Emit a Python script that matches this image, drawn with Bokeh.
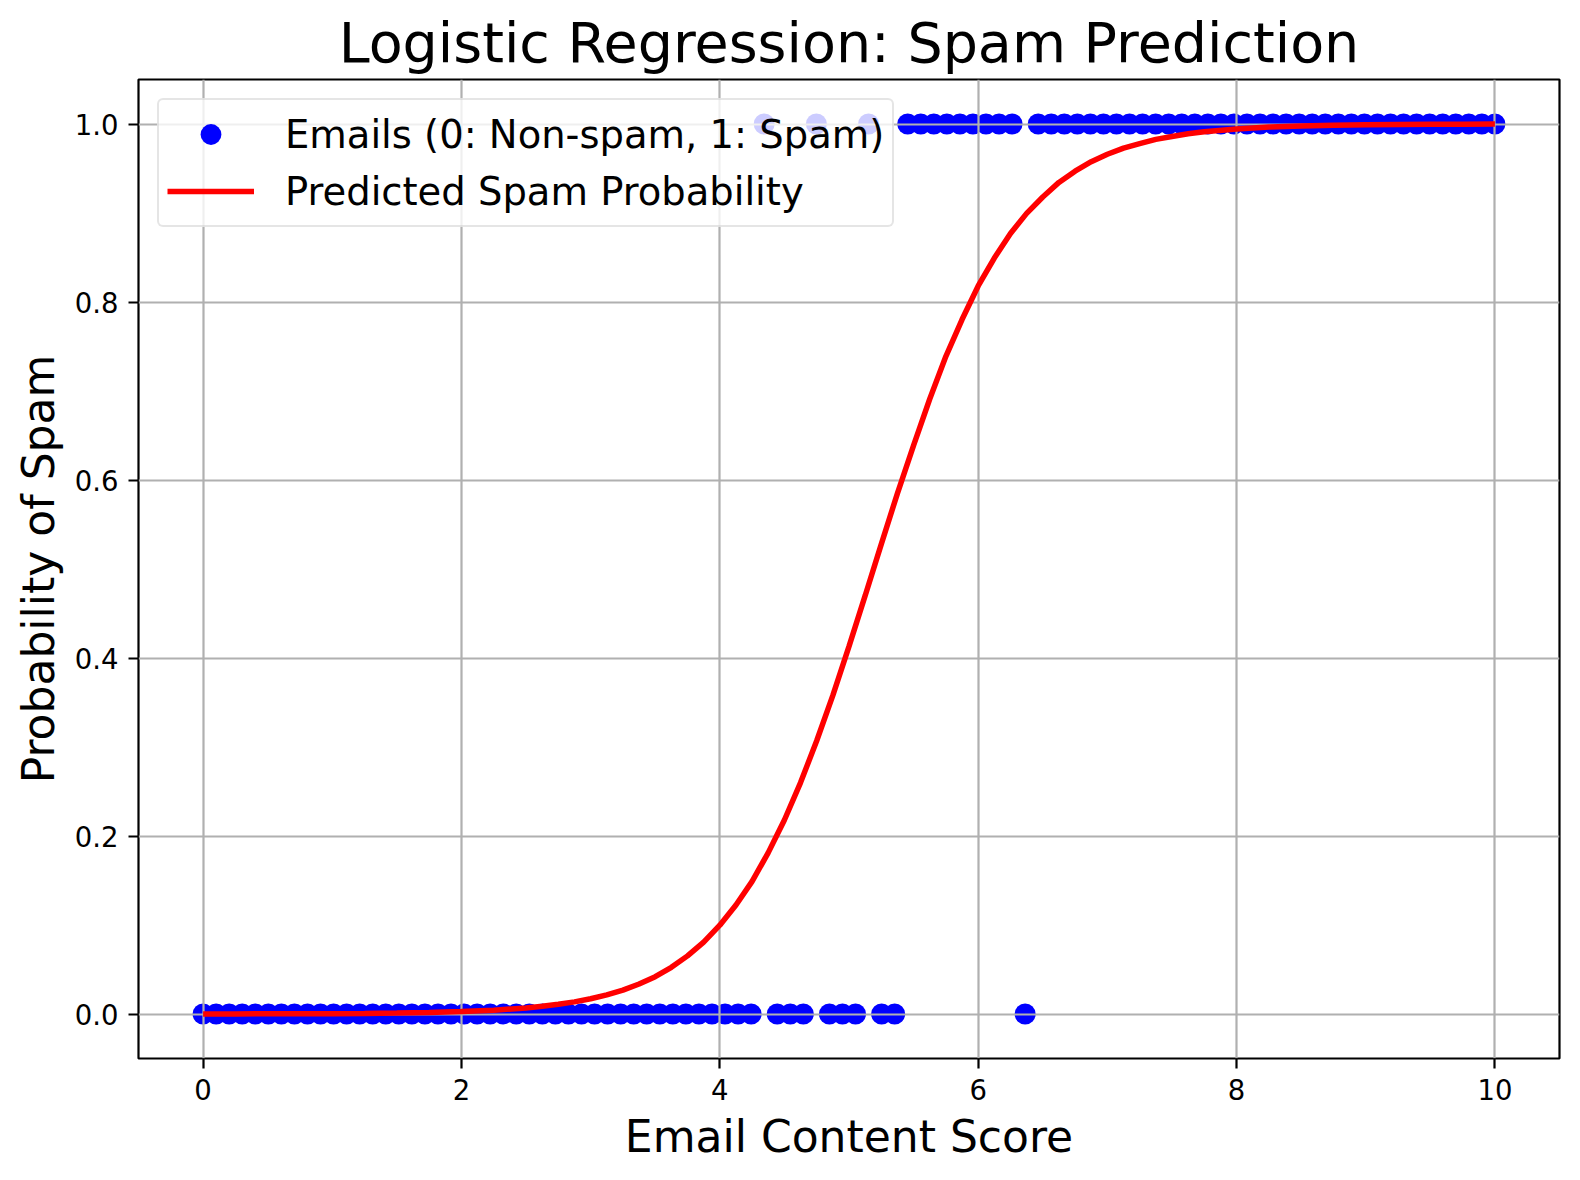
from bokeh.plotting import figure
from bokeh.models import FixedTicker, PrintfTickFormatter, Legend, LegendItem, Range1d
from bokeh.embed import file_html
from bokeh.resources import INLINE

# Email content scores (x) and labels (0: non-spam, 1: spam)
email_scores = [
    0.0, 0.1010, 0.2020, 0.3030, 0.4040, 0.5051, 0.6061, 0.7071, 0.8081, 0.9091,
    1.0101, 1.1111, 1.2121, 1.3131, 1.4141, 1.5152, 1.6162, 1.7172, 1.8182, 1.9192,
    2.0202, 2.1212, 2.2222, 2.3232, 2.4242, 2.5253, 2.6263, 2.7273, 2.8283, 2.9293,
    3.0303, 3.1313, 3.2323, 3.3333, 3.4343, 3.5354, 3.6364, 3.7374, 3.8384, 3.9394,
    4.0404, 4.1414, 4.2424, 4.3434, 4.4444, 4.5455, 4.6465, 4.7475, 4.8485, 4.9495,
    5.0505, 5.1515, 5.2525, 5.3535, 5.4545, 5.5556, 5.6566, 5.7576, 5.8586, 5.9596,
    6.0606, 6.1616, 6.2626, 6.3636, 6.4646, 6.5657, 6.6667, 6.7677, 6.8687, 6.9697,
    7.0707, 7.1717, 7.2727, 7.3737, 7.4747, 7.5758, 7.6768, 7.7778, 7.8788, 7.9798,
    8.0808, 8.1818, 8.2828, 8.3838, 8.4848, 8.5859, 8.6869, 8.7879, 8.8889, 8.9899,
    9.0909, 9.1919, 9.2929, 9.3939, 9.4949, 9.5960, 9.6970, 9.7980, 9.8990, 10.0,
]
spam_labels = [
    0, 0, 0, 0, 0, 0, 0, 0, 0, 0,
    0, 0, 0, 0, 0, 0, 0, 0, 0, 0,
    0, 0, 0, 0, 0, 0, 0, 0, 0, 0,
    0, 0, 0, 0, 0, 0, 0, 0, 0, 0,
    0, 0, 0, 1, 0, 0, 0, 1, 0, 0,
    0, 1, 0, 0, 1, 1, 1, 1, 1, 1,
    1, 1, 1, 0, 1, 1, 1, 1, 1, 1,
    1, 1, 1, 1, 1, 1, 1, 1, 1, 1,
    1, 1, 1, 1, 1, 1, 1, 1, 1, 1,
    1, 1, 1, 1, 1, 1, 1, 1, 1, 1,
]

# Predicted spam probability curve
curve_x = [
    0.0, 0.25, 0.5, 0.75, 1.0, 1.25, 1.5, 1.75, 2.0, 2.25, 2.5, 2.625, 2.75, 2.875,
    3.0, 3.125, 3.25, 3.375, 3.5, 3.625, 3.75, 3.875, 4.0, 4.125, 4.25, 4.375, 4.5,
    4.625, 4.75, 4.875, 5.0, 5.125, 5.25, 5.375, 5.5, 5.625, 5.75, 5.875, 6.0, 6.125,
    6.25, 6.375, 6.5, 6.625, 6.75, 6.875, 7.0, 7.125, 7.25, 7.375, 7.5, 7.625, 7.75,
    8.0, 8.25, 8.5, 8.75, 9.0, 9.25, 9.5, 9.75, 10.0,
]
curve_p = [
    0.0001, 0.0001, 0.0002, 0.0003, 0.0004, 0.0007, 0.0011, 0.0017, 0.0027, 0.0043,
    0.0068, 0.0086, 0.0109, 0.0136, 0.0171, 0.0215, 0.0269, 0.0337, 0.0419, 0.0524,
    0.0653, 0.0807, 0.0998, 0.1224, 0.149, 0.1813, 0.218, 0.260, 0.307, 0.358,
    0.413, 0.470, 0.528, 0.585, 0.639, 0.691, 0.739, 0.7803, 0.818, 0.8494,
    0.877, 0.8996, 0.918, 0.9344, 0.947, 0.9576, 0.966, 0.9729, 0.978, 0.9827,
    0.986, 0.9891, 0.9913, 0.9945, 0.9965, 0.9978, 0.9986, 0.9991, 0.9995, 0.9997,
    0.9998, 0.9999,
]

x_ticks = [0, 2, 4, 6, 8, 10]
y_ticks = [0.0, 0.2, 0.4, 0.6, 0.8, 1.0]

FONT = "DejaVu Sans"

p = figure(
    width=1580, height=1180,
    output_backend="svg", toolbar_location=None,
    x_range=Range1d(-0.5, 10.5), y_range=Range1d(-0.05, 1.05),
    min_border_left=138, min_border_right=21, min_border_top=79, min_border_bottom=122,
    title="Logistic Regression: Spam Prediction",
)
p.title.text_font = FONT
p.title.text_font_size = "55.5px"
p.title.text_font_style = "normal"
p.title.align = "center"
p.title.text_color = "black"
p.title.standoff = 10

sc = p.scatter(email_scores, spam_labels, size=21, color="blue", line_color=None, level="image")
ln = p.line(curve_x, curve_p, line_color="red", line_width=5.5)

for ax in (p.xaxis[0], p.yaxis[0]):
    ax.major_label_text_font = FONT
    ax.major_label_text_font_size = "27.5px"
    ax.major_label_text_color = "black"
    ax.axis_label_text_font = FONT
    ax.axis_label_text_font_size = "44px"
    ax.axis_label_text_font_style = "normal"
    ax.axis_label_text_color = "black"
    ax.major_tick_out = 10
    ax.major_tick_in = 0
    ax.major_tick_line_width = 2.2
    ax.major_tick_line_color = "black"
    ax.minor_tick_out = 0
    ax.minor_tick_in = 0
    ax.axis_line_color = None
    ax.major_label_standoff = 10

p.xaxis.axis_label = "Email Content Score"
p.yaxis.axis_label = "Probability of Spam"
p.xaxis.axis_label_standoff = 8
p.yaxis.axis_label_standoff = 8
p.xaxis.ticker = FixedTicker(ticks=x_ticks)
p.yaxis.ticker = FixedTicker(ticks=y_ticks)
p.yaxis.formatter = PrintfTickFormatter(format="%.1f")

p.xgrid.ticker = FixedTicker(ticks=x_ticks)
p.ygrid.ticker = FixedTicker(ticks=y_ticks)
for g in (p.xgrid[0], p.ygrid[0]):
    g.grid_line_color = "#b0b0b0"
    g.grid_line_width = 2.2

p.outline_line_color = "black"
p.outline_line_width = 2.2
p.background_fill_color = "white"
p.border_fill_color = "white"

legend = Legend(
    items=[
        LegendItem(label="Emails (0: Non-spam, 1: Spam)", renderers=[sc]),
        LegendItem(label="Predicted Spam Probability", renderers=[ln]),
    ],
    location="top_left",
    margin=19,
    padding=8,
    spacing=5,
    glyph_width=87,
    glyph_height=52,
    label_height=52,
    label_standoff=31,
    label_text_font=FONT,
    label_text_font_size="38.5px",
    label_text_color="black",
    background_fill_color="white",
    background_fill_alpha=0.8,
    border_line_color="#cccccc",
    border_line_width=2.5,
    border_radius=6,
)
p.add_layout(legend, "center")

open("out.html", "w").write(file_html(p, INLINE))
